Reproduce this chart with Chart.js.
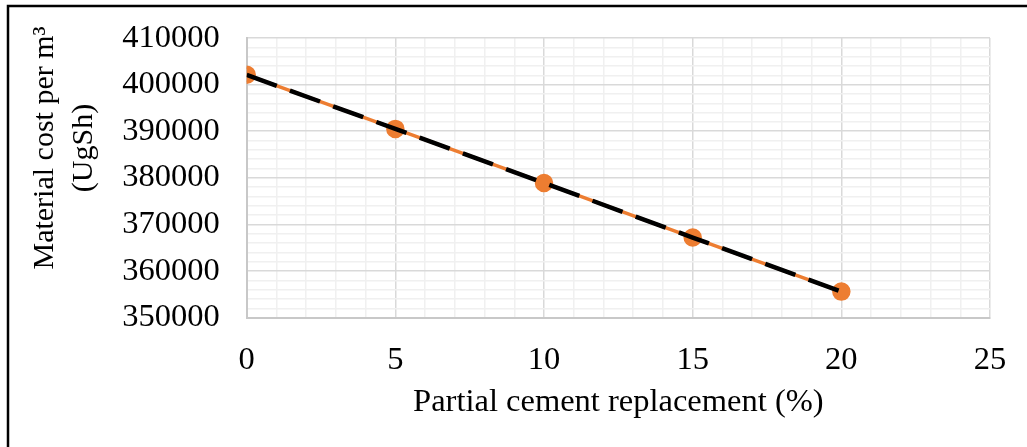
<!DOCTYPE html>
<html lang="en">
<head>
  <meta charset="UTF-8">
  <title>Material cost per m3</title>
  <script src="https://cdn.jsdelivr.net/npm/chart.js"></script>
  <style>
    html, body { margin: 0; padding: 0; background: #fff; }
    #wrap { width: 1027px; height: 447px; position: relative; }
  </style>
</head>
<body>
  <div id="wrap">
    <canvas id="costChart"></canvas>
  </div>

  <script>
    // Data
    const replacement = [0, 5, 10, 15, 20];          // partial cement replacement (%)
    const materialCost = [402100, 390500, 378900, 367200, 355600]; // UgSh per m3
    const xTicks = [0, 5, 10, 15, 20, 25];
    const yTicks = [350000, 360000, 370000, 380000, 390000, 400000, 410000];

    const orange = "#ED7D31";
    const serif = "'Liberation Serif', 'Times New Roman', serif";

    const points = replacement.map((x, i) => ({ x: x, y: materialCost[i] }));

    // outer frame + y axis title (two lines, centred like the original)
    const extras = {
      id: "extras",
      beforeDraw(chart) {
        const c = chart.ctx;
        c.save();
        c.fillStyle = "#fff";
        c.fillRect(0, 0, chart.width, chart.height);
        c.strokeStyle = "#000";
        c.lineWidth = 2.5;
        c.strokeRect(8, 6, 1200, 1000);
        c.restore();
      },
      afterDraw(chart) {
        const c = chart.ctx;
        c.save();
        c.fillStyle = "#000";
        c.font = "30px " + serif;
        c.textAlign = "center";
        c.textBaseline = "alphabetic";
        c.translate(0, 148);
        c.rotate(-Math.PI / 2);
        c.fillText("Material cost per m³", 0, 53);
        c.fillText("(UgSh)", 0, 92);
        c.restore();
      }
    };

    new Chart(document.getElementById("costChart"), {
      type: "scatter",
      data: {
        datasets: [
          {
            label: "Material cost",
            data: points,
            showLine: true,
            borderColor: orange,
            borderWidth: 3.5,
            backgroundColor: orange,
            pointBackgroundColor: orange,
            pointBorderColor: orange,
            pointRadius: 7.5,
            pointHoverRadius: 7.5,
            order: 2
          },
          {
            label: "Linear",
            data: points,
            showLine: true,
            borderColor: "#000",
            borderWidth: 4.5,
            borderDash: [32, 14],
            pointRadius: 0,
            order: 1
          }
        ]
      },
      options: {
        responsive: true,
        maintainAspectRatio: false,
        animation: false,
        layout: { padding: { left: 0, top: 38, right: 37, bottom: 0 } },
        plugins: {
          legend: { display: false },
          tooltip: { enabled: false }
        },
        scales: {
          x: {
            type: "linear",
            min: 0,
            max: 25,
            afterBuildTicks(s) {
              s.ticks = [];
              for (let v = 0; v <= 25; v++) s.ticks.push({ value: v });
            },
            afterFit(s) {
              s.height = 129.3;
              s.paddingLeft = 0;
              s.paddingRight = 0;
            },
            grid: {
              drawTicks: false,
              color: (ctx) => (xTicks.includes(ctx.tick.value) ? "#d9d9d9" : "#f0f0f0"),
              lineWidth: 1.5
            },
            border: { color: "#c8c8c8", width: 2 },
            ticks: {
              autoSkip: false,
              maxRotation: 0,
              padding: 23,
              color: "#000",
              font: { family: serif, size: 32.5 },
              callback: (v) => (xTicks.includes(v) ? v : "")
            },
            title: {
              display: true,
              text: "Partial cement replacement (%)",
              color: "#000",
              font: { family: serif, size: 32.5 },
              padding: { top: 0, bottom: 25 }
            }
          },
          y: {
            type: "linear",
            min: 350000,
            max: 410000,
            afterBuildTicks(s) {
              s.ticks = [];
              for (let v = 350000; v <= 410000; v += 2000) s.ticks.push({ value: v });
            },
            afterFit(s) {
              s.width = 246.7;
              s.paddingTop = 0;
              s.paddingBottom = 0;
            },
            grid: {
              drawTicks: false,
              color: (ctx) => (yTicks.includes(ctx.tick.value) ? "#d9d9d9" : "#f0f0f0"),
              lineWidth: 1.5
            },
            border: { color: "#c8c8c8", width: 2 },
            ticks: {
              autoSkip: false,
              padding: 27,
              color: "#000",
              font: { family: serif, size: 32.5 },
              callback: (v) => (yTicks.includes(v) ? String(v) : "")
            }
          }
        }
      },
      plugins: [extras]
    });
  </script>
</body>
</html>
